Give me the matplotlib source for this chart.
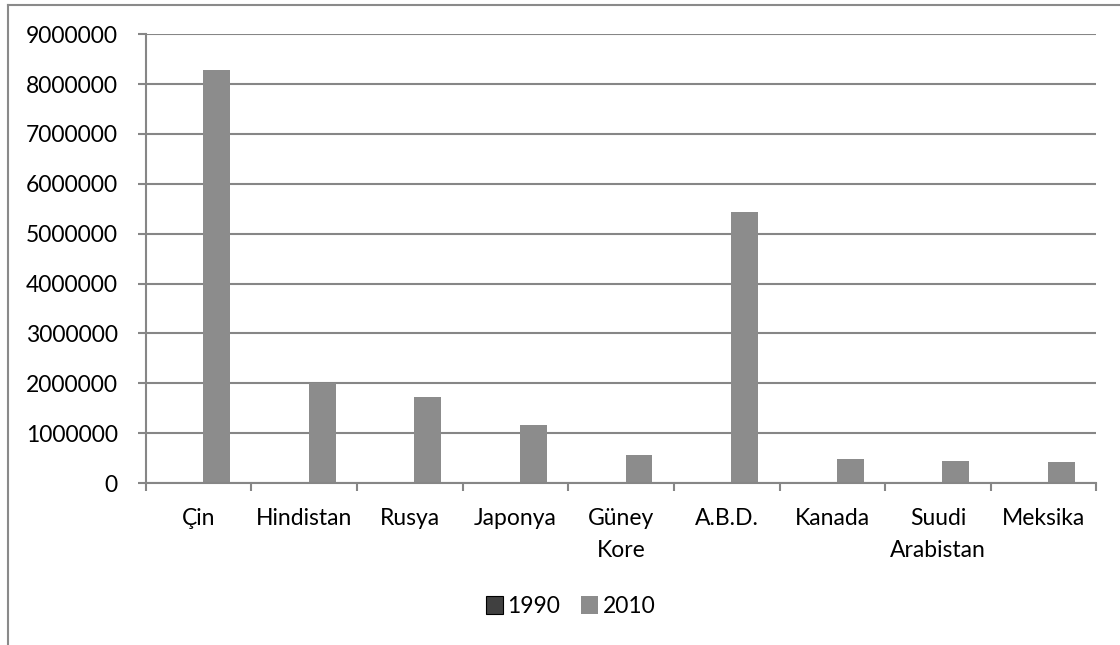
import matplotlib.pyplot as plt
from matplotlib.lines import Line2D
import numpy as np

plt.rcParams['font.family'] = ['Lato', 'DejaVu Sans']
plt.rcParams['font.size'] = 16.5

# Ülkeler ve yıllara göre değerler
ulkeler = ['Çin', 'Hindistan', 'Rusya', 'Japonya', 'Güney\nKore', 'A.B.D.',
           'Kanada', 'Suudi\nArabistan', 'Meksika']
yil_1990 = [0, 0, 0, 0, 0, 0, 0, 0, 0]
yil_2010 = [8280000, 2000000, 1730000, 1160000, 560000, 5430000, 490000, 450000, 430000]

grid_renk = '#868686'

fig = plt.figure(figsize=(11.2, 6.45), dpi=100)
ax = fig.add_axes([0.130, 0.251, 0.849, 0.696])

x = np.arange(len(ulkeler))
w = 0.255
ax.bar(x - 0.17, yil_1990, w, color='#404040', edgecolor='black', linewidth=0.8, label='1990')
ax.bar(x + 0.17, yil_2010, w, color='#8c8c8c', label='2010')

ax.set_xlim(-0.5, len(ulkeler) - 0.5)
ax.set_ylim(0, 9000000)
ax.set_yticks(np.arange(0, 9000001, 1000000))
ax.set_yticklabels([f'{int(v)}' for v in np.arange(0, 9000001, 1000000)])
ax.yaxis.grid(True, color=grid_renk, linewidth=1.5)
ax.set_axisbelow(True)

# kategori sınırlarında çentikler
ax.set_xticks(np.arange(-0.5, len(ulkeler), 1.0))
ax.set_xticklabels([])
ax.set_xticks(x, minor=True)
ax.set_xticklabels(ulkeler, minor=True, linespacing=1.65, va='top')
ax.tick_params(axis='x', which='minor', length=0, pad=18)
ax.tick_params(axis='x', which='major', length=6, width=1.5, color=grid_renk)
ax.tick_params(axis='y', length=6, width=1.5, color=grid_renk, pad=14)

for s in ['top', 'right']:
    ax.spines[s].set_visible(False)
for s in ['left', 'bottom']:
    ax.spines[s].set_color(grid_renk)
    ax.spines[s].set_linewidth(1.5)

ax.legend(loc='upper center', bbox_to_anchor=(0.447, -0.205), ncol=2, frameon=False,
          handlelength=0.75, handleheight=0.8, handletextpad=0.2, columnspacing=0.9)

# grafik alanı çerçevesi
fig.add_artist(Line2D([8 / 1120, 8 / 1120], [0, 1 - 4.5 / 645], transform=fig.transFigure,
                      color='#8a8a8a', linewidth=1.5))
fig.add_artist(Line2D([8 / 1120, 1], [1 - 4.5 / 645, 1 - 4.5 / 645], transform=fig.transFigure,
                      color='#8a8a8a', linewidth=1.5))

fig.savefig('out.png', dpi=100)
